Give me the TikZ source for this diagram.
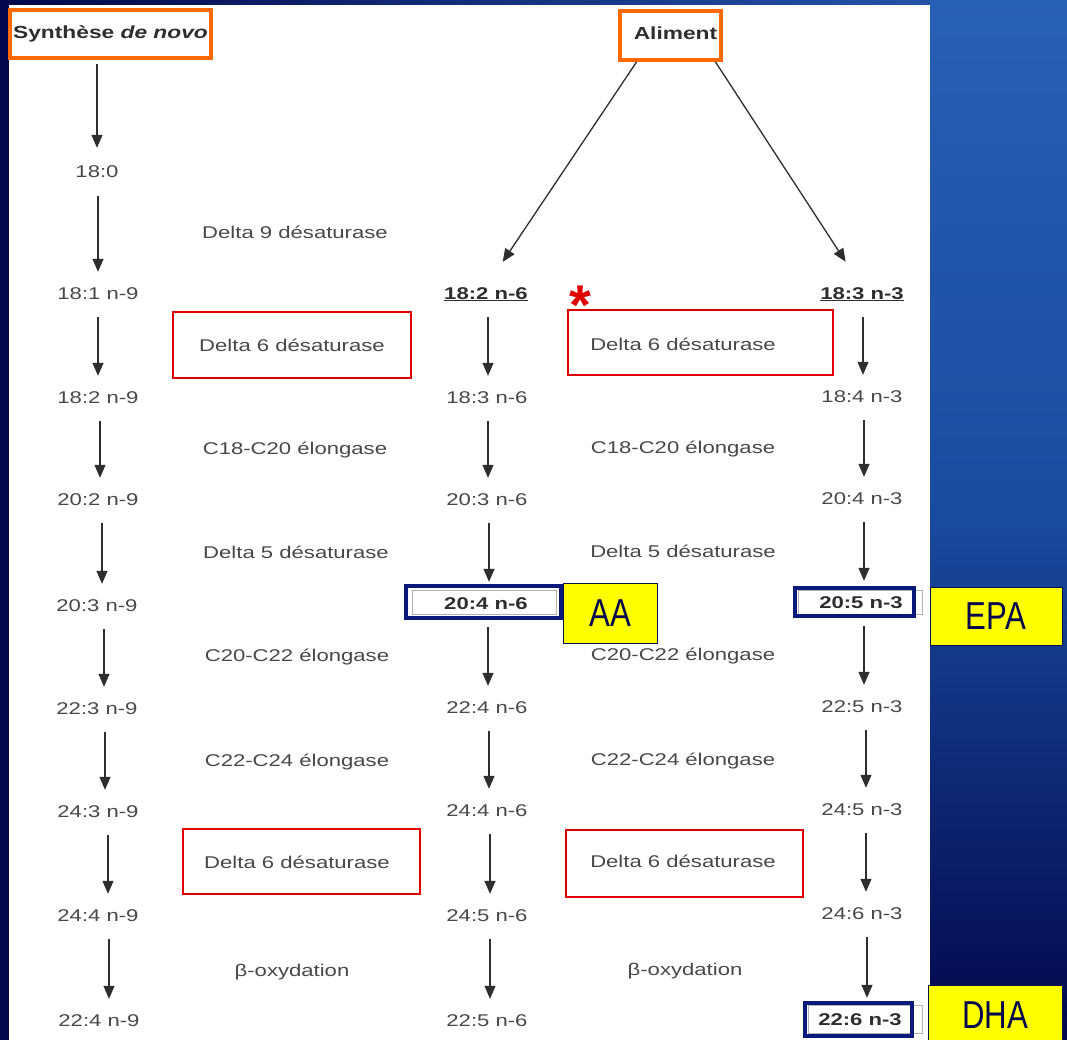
\documentclass[tikz,border=0pt]{standalone}
\usepackage{fontspec}
\setmainfont{Liberation Sans}[FakeStretch=1.3]
\newfontfamily\ylfont{Liberation Sans}[FakeStretch=0.8]
\newfontfamily\astfont{Liberation Sans}
\usetikzlibrary{arrows.meta}
\definecolor{lblgray}{HTML}{484848}
\definecolor{navybg}{HTML}{03064A}
\definecolor{bgblue}{HTML}{2860B5}
\definecolor{bgmid}{HTML}{1A4A9E}
\definecolor{boxnavy}{HTML}{0A1A7A}
\definecolor{orng}{HTML}{FF6A00}
\definecolor{ylw}{HTML}{FFFF00}
\definecolor{ytext}{HTML}{06064E}
\definecolor{arrgray}{HTML}{2E2E2E}
\definecolor{redbx}{HTML}{E00000}
\newcommand{\varr}[3]{\draw[arr] ([xshift=#3]#1.south) -- ([xshift=#3]#1.south |- #2.north);}
\begin{document}
\begin{tikzpicture}[x=1pt,y=-1pt,
 lbl/.style={font=\fontsize{17}{19}\selectfont, text=lblgray, inner sep=0pt, text height=12pt, text depth=0pt},
 blbl/.style={lbl, font=\fontsize{17}{19}\selectfont\bfseries, text=arrgray},
 redbox/.style={draw=redbx, line width=1.5pt, inner sep=0pt},
 orbox/.style={draw=orng, line width=4pt, fill=white, inner sep=0pt, font=\fontsize{17.5}{19}\selectfont\bfseries, text=arrgray},
 navybox/.style={draw=boxnavy, line width=3.5pt, inner sep=0pt},
 grayframe/.style={draw=gray!60, line width=0.8pt, inner sep=0pt},
 ybox/.style={draw=boxnavy!70!black, line width=1pt, fill=ylw, inner sep=0pt, font=\ylfont\fontsize{39}{40}\selectfont, text=ytext},
 arr/.style={draw=arrgray, line width=1.3pt, -{Triangle[width=11pt,length=13pt]}, shorten <=18pt, shorten >=15pt},
]
\useasboundingbox (0,0) rectangle (1067,1040);
% background
\shade[left color=navybg, right color=bgblue] (0,0) rectangle (1067,1040);
\shade[top color=bgblue, bottom color=navybg, middle color=bgmid] (930,0) rectangle (1067,1040);
\fill[navybg] (0,0) rectangle (9,1040);
\fill[white] (9,5) rectangle (930,1040);

% headers
\node[orbox, minimum width=201pt, minimum height=48pt] (syn) at (110.5,34) {Synthèse \textit{de novo}};
\node[orbox, minimum width=101pt, minimum height=49pt] (alim) at (670.5,35.5) {\hspace*{10pt}\raisebox{4pt}{Aliment}};

% column n-9
\node[lbl] (c0) at (97,172) {18:0};
\node[lbl] (c1) at (98,293) {18:1 n-9};
\node[lbl] (c2) at (98,397) {18:2 n-9};
\node[lbl] (c3) at (98,499) {20:2 n-9};
\node[lbl] (c4) at (97,605) {20:3 n-9};
\node[lbl] (c5) at (97,708) {22:3 n-9};
\node[lbl] (c6) at (98,811) {24:3 n-9};
\node[lbl] (c7) at (98,915) {24:4 n-9};
\node[lbl] (c8) at (99,1020) {22:4 n-9};

% column n-6
\node[grayframe, minimum width=144pt, minimum height=24pt] (g1) at (484,602) {};
\node[blbl] (m0) at (486,293) {\underline{18:2 n-6}};
\node[lbl] (m1) at (487,397) {18:3 n-6};
\node[lbl] (m2) at (487,499) {20:3 n-6};
\node[blbl] (m3) at (486,603) {20:4 n-6};
\node[lbl] (m4) at (487,707) {22:4 n-6};
\node[lbl] (m5) at (487,810) {24:4 n-6};
\node[lbl] (m6) at (487,915) {24:5 n-6};
\node[lbl] (m7) at (487,1020) {22:5 n-6};

% column n-3
\node[grayframe, minimum width=124pt, minimum height=24pt] (g2) at (860,602) {};
\node[grayframe, minimum width=114pt, minimum height=28pt] (g3) at (865,1019.5) {};
\node[blbl] (r0) at (862,293) {\underline{18:3 n-3}};
\node[lbl] (r1) at (862,396) {18:4 n-3};
\node[lbl] (r2) at (862,498) {20:4 n-3};
\node[blbl] (r3) at (861,602) {20:5 n-3};
\node[lbl] (r4) at (862,706) {22:5 n-3};
\node[lbl] (r5) at (862,809) {24:5 n-3};
\node[lbl] (r6) at (862,913) {24:6 n-3};
\node[blbl] (r7) at (860,1019) {22:6 n-3};

% highlight boxes
\node[navybox, minimum width=155pt, minimum height=32pt] (nb1) at (483.5,602) {};
\node[navybox, minimum width=119pt, minimum height=28pt] (nb2) at (854.5,602) {};
\node[navybox, minimum width=107pt, minimum height=33pt] (nb3) at (858.5,1019.5) {};

% enzymes left
\node[lbl] (e1) at (295,233) {Delta 9 désaturase};
\node[redbox, minimum width=238pt, minimum height=66pt] (rb1) at (292,345) {};
\node[lbl] (e2) at (292,345) {Delta 6 désaturase};
\node[lbl] (e3) at (295,448) {C18-C20 élongase};
\node[lbl] (e4) at (296,552) {Delta 5 désaturase};
\node[lbl] (e5) at (297,655) {C20-C22 élongase};
\node[lbl] (e6) at (297,760) {C22-C24 élongase};
\node[redbox, minimum width=237pt, minimum height=65pt] (rb3) at (301.5,861.5) {};
\node[lbl] (e7) at (297,862) {Delta 6 désaturase};
\node[lbl] (e8) at (292,970) {β-oxydation};

% enzymes right
\node[redbox, minimum width=265pt, minimum height=65pt] (rb2) at (700.5,342.5) {};
\node[lbl] (f1) at (683,344) {Delta 6 désaturase};
\node[lbl] (f2) at (683,447) {C18-C20 élongase};
\node[lbl] (f3) at (683,551) {Delta 5 désaturase};
\node[lbl] (f4) at (683,654) {C20-C22 élongase};
\node[lbl] (f5) at (683,759) {C22-C24 élongase};
\node[redbox, minimum width=237pt, minimum height=67pt] (rb4) at (684.5,863.5) {};
\node[lbl] (f6) at (683,861) {Delta 6 désaturase};
\node[lbl] (f7) at (685,969) {β-oxydation};

% asterisk
\node[font=\astfont\bfseries\fontsize{56}{56}\selectfont, text=redbx, inner sep=0pt, anchor=base] (ast) at (580,324) {*};

% yellow tags
\node[ybox, minimum width=94pt, minimum height=60pt] (yaa) at (610,613) {AA};
\node[ybox, minimum width=132pt, minimum height=58pt] (yepa) at (996,616) {EPA};
\node[ybox, minimum width=134pt, minimum height=60pt] (ydha) at (995,1015) {DHA};

% arrows
\draw[arr, shorten <=4pt, shorten >=18pt] (syn.south -| c0.north) -- (c0.north);
\draw[arr, shorten <=0pt, shorten >=30pt] ([xshift=-34pt]alim.south) -- (m0.north);
\draw[arr, shorten <=0pt, shorten >=30pt] ([xshift=45pt]alim.south) -- (r0.north);

\varr{c0}{c1}{1pt}
\varr{c1}{c2}{0pt}
\varr{c2}{c3}{2pt}
\varr{c3}{c4}{4pt}
\varr{c4}{c5}{7pt}
\varr{c5}{c6}{8pt}
\varr{c6}{c7}{10pt}
\varr{c7}{c8}{11pt}

\varr{m0}{m1}{2pt}
\varr{m1}{m2}{1pt}
\varr{m2}{m3}{2pt}
\varr{m3}{m4}{2pt}
\varr{m4}{m5}{2pt}
\varr{m5}{m6}{3pt}
\varr{m6}{m7}{3pt}

\varr{r0}{r1}{1pt}
\varr{r1}{r2}{2pt}
\varr{r2}{r3}{2pt}
\varr{r3}{r4}{3pt}
\varr{r4}{r5}{4pt}
\varr{r5}{r6}{4pt}
\varr{r6}{r7}{5pt}
\end{tikzpicture}
\end{document}
